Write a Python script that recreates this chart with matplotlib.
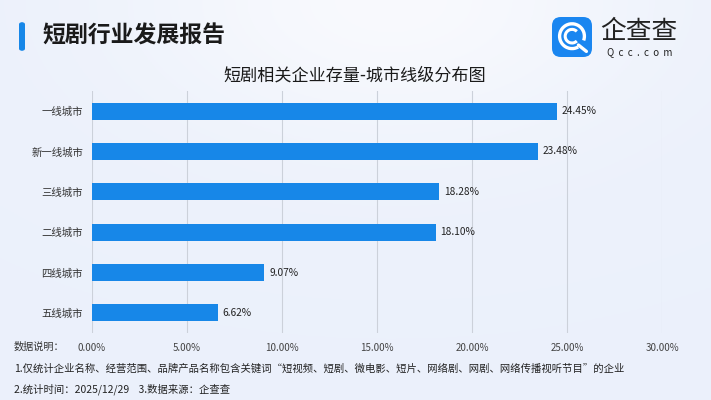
import matplotlib
matplotlib.use("Agg")
import matplotlib.pyplot as plt
import numpy as np
from matplotlib.patches import FancyBboxPatch, Arc

plt.rcParams['font.family'] = ['Noto Sans CJK SC', 'DejaVu Sans']

categories = ['一线城市', '新一线城市', '三线城市', '二线城市', '四线城市', '五线城市']
values = [24.45, 23.48, 18.28, 18.10, 9.07, 6.62]
xticks = [0, 5, 10, 15, 20, 25, 30]
xtick_labels = ['0.00%', '5.00%', '10.00%', '15.00%', '20.00%', '25.00%', '30.00%']

header = '短剧行业发展报告'
title = '短剧相关企业存量-城市线级分布图'
note_head = '数据说明：'
note1 = '1.仅统计企业名称、经营范围、品牌产品名称包含关键词“短视频、短剧、微电影、短片、网络剧、网剧、网络传播视听节目”的企业'
note2 = '2.统计时间：2025/12/29    3.数据来源：企查查'

W, H = 711, 400
fig = plt.figure(figsize=(W / 100, H / 100), dpi=100)

# background gradient
bg = fig.add_axes([0, 0, 1, 1], zorder=-10)
yy, xx = np.mgrid[0:1:200j, 0:1:356j]
blob = np.exp(-(((xx - 0.55) / 0.35) ** 2 + ((yy - 0.0) / 0.35) ** 2))
base = np.array([0.925, 0.945, 0.985])
white = np.array([0.975, 0.98, 0.995])
img = base[None, None, :] * (1 - blob[..., None]) + white[None, None, :] * blob[..., None]
bg.imshow(img, extent=[0, 1, 0, 1], aspect='auto', origin='upper')
bg.axis('off')

# main axes
left, right = 92 / W, 662 / W
top, bottom = 91 / H, 333 / H
ax = fig.add_axes([left, 1 - bottom, right - left, bottom - top])
ax.set_facecolor('none')
ypos = np.arange(len(categories))
ax.barh(ypos, values, height=0.42, color='#1787e8', zorder=3)
ax.set_xlim(0, 30)
ax.set_ylim(len(categories) - 0.5, -0.5)
ax.set_yticks(ypos)
ax.set_yticklabels(categories, fontsize=7.5, color='#333333')
ax.set_xticks(xticks)
ax.set_xticklabels(xtick_labels, fontsize=7, color='#444444')
ax.tick_params(axis='both', length=0)
ax.tick_params(axis='y', pad=6.5)
ax.tick_params(axis='x', pad=7)
for s in ax.spines.values():
    s.set_visible(False)
ax.grid(axis='x', color='#ccd1da', linewidth=0.8, zorder=0)
ax.set_axisbelow(True)
for y, v in zip(ypos, values):
    ax.text(v + 0.25, y, f'{v:.2f}%', va='center', ha='left', fontsize=7.3, color='#222222')

# header
fig.add_artist(FancyBboxPatch((19 / W, 1 - 51 / H), 6 / W, 29 / H,
                              boxstyle='round,pad=0,rounding_size=0.006',
                              transform=fig.transFigure, color='#1787e8', lw=0))
fig.text(42 / W, 1 - 36 / H, header, fontsize=16.5, fontweight='bold',
         color='#1a1a1a', va='center', ha='left')
fig.text(355 / W, 1 - 76 / H, title, fontsize=12.3, fontweight='medium',
         color='#1a1a1a', va='center', ha='center')

# logo
lax = fig.add_axes([552 / W, 1 - 57 / H, 40 / W, 40 / H])
lax.set_xlim(0, 1)
lax.set_ylim(0, 1)
lax.axis('off')
lax.add_patch(FancyBboxPatch((0, 0), 1, 1, boxstyle='round,pad=0,rounding_size=0.22',
                             color='#1a86f0', lw=0))
lax.add_patch(Arc((0.5, 0.52), 0.62, 0.62, theta1=-20, theta2=300, color='white', lw=2.4))
lax.add_patch(Arc((0.5, 0.52), 0.34, 0.34, theta1=45, theta2=315, color='white', lw=2.2))
lax.plot([0.66, 0.86], [0.30, 0.14], color='white', lw=2.4, solid_capstyle='round')

fig.text(639 / W, 1 - 32 / H, '企查查', fontsize=18.5, color='#222222',
         va='center', ha='center')
fig.text(640 / W, 1 - 52 / H, 'Q  c  c  .  c  o  m', fontsize=7, color='#222222',
         va='center', ha='center')

# notes
fig.text(14 / W, 1 - 347 / H, note_head, fontsize=7.3, color='#333333', va='center', ha='left')
fig.text(14 / W, 1 - 369 / H, note1, fontsize=7.45, color='#222222', va='center', ha='left')
fig.text(14 / W, 1 - 389 / H, note2, fontsize=7.45, color='#222222', va='center', ha='left')

fig.savefig('out.png', dpi=100)
